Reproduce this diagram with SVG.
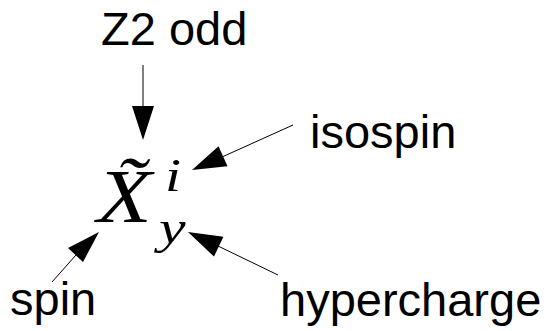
<svg xmlns="http://www.w3.org/2000/svg" width="553" height="331" viewBox="0 0 553 331">
<style>
.lbl{font-family:"Liberation Sans",Arial,sans-serif;font-size:47px;fill:#000}
.math{font-family:"Liberation Serif","Times New Roman",serif;font-style:italic;fill:#000}
.ln{stroke:#000;stroke-width:1;fill:none}
.hd{fill:#000;stroke:none}
</style>
<rect width="553" height="331" fill="#fff"/>
<g id="center">
<text class="math" font-size="76" transform="translate(97,222) scale(1.18,1)" x="0" y="0">X̃</text>
<text class="math" font-size="46" transform="translate(165,191) scale(1.25,1)" x="0" y="0">i</text>
<text class="math" font-size="46" transform="translate(159,243) scale(1.3,1)" x="0" y="0">y</text>
</g>
<g id="z2odd"><text class="lbl" x="101" y="45">Z2 odd</text></g>
<g id="isospin"><text class="lbl" x="310" y="148">isospin</text></g>
<g id="spin"><text class="lbl" x="10" y="315">spin</text></g>
<g id="hypercharge"><text class="lbl" x="280" y="316">hypercharge</text></g>
<g id="connectors">
<line class="ln" x1="143" y1="65" x2="143" y2="107"/>
<polygon class="hd" points="132,106 154,106 143,140"/>
<line class="ln" x1="293" y1="125" x2="222" y2="157"/>
<polygon class="hd" points="192,170 218.5,146.2 227.5,166.2"/>
<line class="ln" x1="52" y1="282" x2="76" y2="255"/>
<polygon class="hd" points="99,232 68,248 83,262"/>
<line class="ln" x1="278" y1="275" x2="218" y2="246"/>
<polygon class="hd" points="188,232 214,256.6 223.4,236.8"/>
</g>
</svg>
